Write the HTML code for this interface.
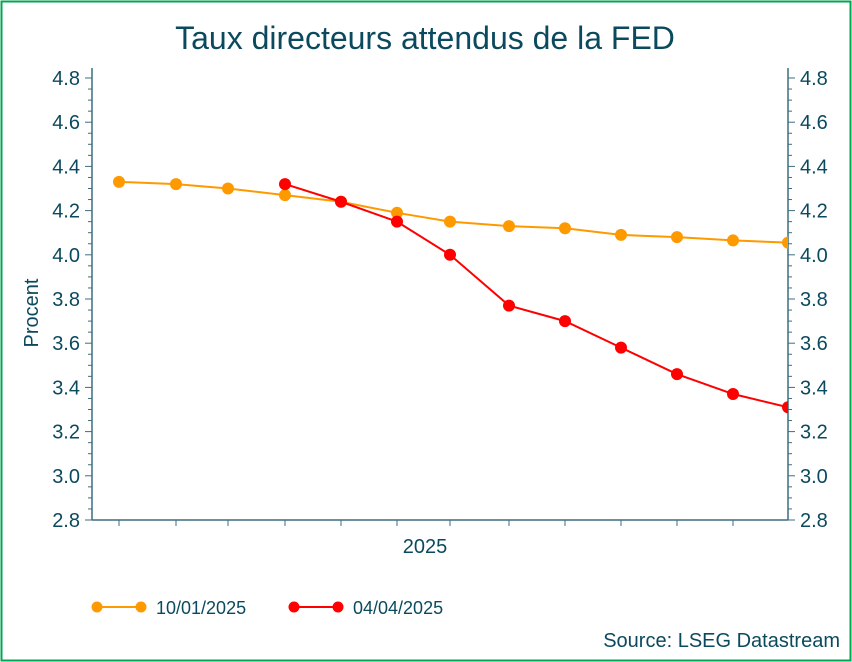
<!DOCTYPE html>
<html><head><meta charset="utf-8"><style>
body{margin:0;background:#fff;}
svg{display:block;font-family:"Liberation Sans",Arial,sans-serif;}
</style></head><body>
<svg id="c" width="852" height="662">
<rect x="1.5" y="1.5" width="849" height="659" fill="#fff" stroke="#00a651" stroke-width="2"/>
<text x="425" y="49" text-anchor="middle" font-size="32" fill="#0b4a5e">Taux directeurs attendus de la FED</text>
<text transform="translate(38,313) rotate(-90)" text-anchor="middle" font-size="20" fill="#0b4a5e">Procent</text>
<text x="425" y="553" text-anchor="middle" font-size="20" fill="#0b4a5e">2025</text>
<defs><clipPath id="pc"><rect x="92" y="60" width="696" height="470"/></clipPath></defs>
<g id="axes"></g>
<g id="series" clip-path="url(#pc)"></g>
<g>
<g>
<line x1="97" y1="607" x2="141" y2="607" stroke="#ff9900" stroke-width="2"/>
<circle cx="97" cy="607" r="5.5" fill="#ff9900"/><circle cx="141" cy="607" r="5.5" fill="#ff9900"/>
<text x="156" y="614" font-size="18" fill="#0b4a5e">10/01/2025</text></g>
<g>
<line x1="294" y1="607" x2="338" y2="607" stroke="#ff0000" stroke-width="2"/>
<circle cx="294" cy="607" r="5.5" fill="#ff0000"/><circle cx="338" cy="607" r="5.5" fill="#ff0000"/>
<text x="353" y="614" font-size="18" fill="#0b4a5e">04/04/2025</text></g>
</g>
<text x="840" y="647" text-anchor="end" font-size="20" fill="#0b4a5e">Source: LSEG Datastream</text>
</svg>
<script>
const yTicks=[2.8,3.0,3.2,3.4,3.6,3.8,4.0,4.2,4.4,4.6,4.8];
const xIndex=[0,1,2,3,4,5,6,7,8,9,10,11,12];
const seriesJan=[4.33,4.32,4.30,4.27,4.24,4.19,4.15,4.13,4.12,4.09,4.08,4.065,4.055];
const seriesApr=[null,null,null,4.32,4.24,4.15,4.00,3.77,3.70,3.58,3.46,3.37,3.31];
const L=92,R=788,T=78,B=520,ymin=2.8,ymax=4.8;
const xPos=[119,176,228,285,341,397,450,509,565,621,677,733,788];
function y(v){return B-(v-ymin)/(ymax-ymin)*(B-T);}
function x(i){return xPos[i];}
const NS="http://www.w3.org/2000/svg";
function mk(t,a,p){const e=document.createElementNS(NS,t);for(const k in a)e.setAttribute(k,a[k]);p.appendChild(e);return e;}
const ax=document.getElementById('axes');
const c='#3c6e80';
let e=mk('line',{x1:L,y1:T-10,x2:L,y2:B,stroke:c,'stroke-width':1.5},ax);

e=mk('line',{x1:R,y1:T-10,x2:R,y2:B,stroke:c,'stroke-width':1.5},ax);

e=mk('line',{x1:L,y1:B,x2:R,y2:B,stroke:c,'stroke-width':1.5},ax);

for(let v=ymin;v<=ymax+1e-6;v+=0.05){const yy=y(v);const major=Math.abs(v*5-Math.round(v*5))<1e-6;
 mk('line',{x1:L-(major?7:4),y1:yy,x2:L,y2:yy,stroke:c,'stroke-width':1},ax);
 mk('line',{x1:R,y1:yy,x2:R+(major?7:4),y2:yy,stroke:c,'stroke-width':1},ax);}
yTicks.forEach(v=>{
 let t=mk('text',{x:L-12,y:y(v)+7,'text-anchor':'end','font-size':20,fill:'#0b4a5e'},ax);t.textContent=v.toFixed(1);
 
 t=mk('text',{x:R+12,y:y(v)+7,'font-size':20,fill:'#0b4a5e'},ax);t.textContent=v.toFixed(1);
 });
xIndex.slice(0,12).forEach(i=>{mk('line',{x1:x(i),y1:B,x2:x(i),y2:B+6,stroke:c,'stroke-width':1},ax);});
const sg=document.getElementById('series');
function draw(data,col,name){
 const g=mk('g',{},sg);
 const pts=[];data.forEach((v,i)=>{if(v!=null)pts.push([x(i),y(v)]);});
 const p=mk('polyline',{points:pts.map(q=>q.join(',')).join(' '),fill:'none',stroke:col,'stroke-width':2},g);
 
 pts.forEach(q=>{const m=mk('circle',{cx:q[0],cy:q[1],r:6,fill:col},g);
  });
}
draw(seriesJan,'#ff9900','series-10-01-2025');
draw(seriesApr,'#ff0000','series-04-04-2025');
</script>
</body></html>
